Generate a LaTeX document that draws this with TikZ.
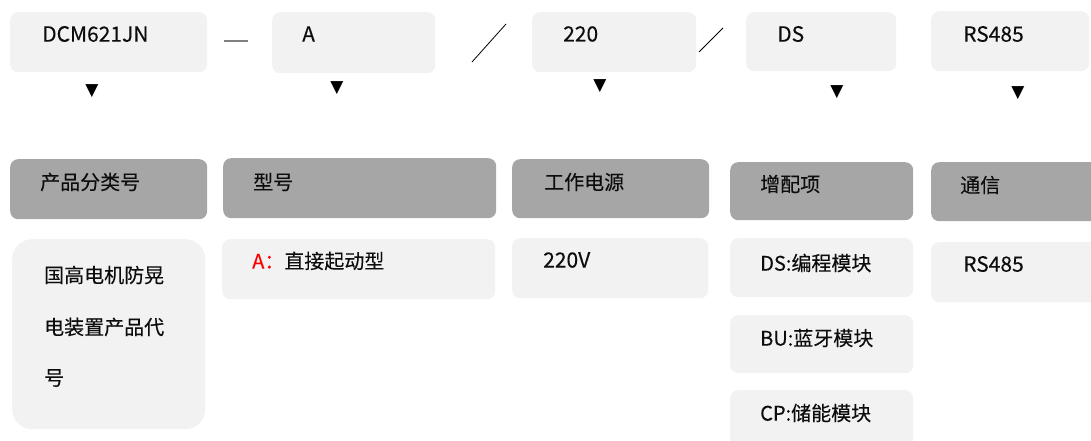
\documentclass[tikz,border=0pt]{standalone}
\usepackage{fontspec}
\setmainfont{Noto Sans CJK SC}[FakeBold=0.15]
\newfontfamily\symfont{DejaVu Sans}
\definecolor{lightbg}{HTML}{F2F2F2}
\definecolor{headbg}{HTML}{A6A6A6}
\definecolor{txt}{HTML}{0D0D0D}
\definecolor{sepgray}{HTML}{808080}
\begin{document}
\begin{tikzpicture}[x=1pt,y=-1pt,
  lbox/.style={fill=lightbg,draw=none,rounded corners=8pt,inner sep=0pt,anchor=north west},
  hbox/.style={fill=headbg,draw=none,rounded corners=8pt,inner sep=0pt,anchor=north west},
  lbl/.style={anchor=west,inner sep=0pt,text=txt,font=\fontsize{20}{24}\selectfont},
  latin/.style={lbl,font=\fontsize{21}{24}\selectfont},
  tri/.style={inner sep=0pt,text=black,font=\symfont\fontsize{17}{17}\selectfont},
  sep/.style={line width=0.8pt}]
\clip (0,0) rectangle (1091,441);
\useasboundingbox (0,0) rectangle (1091,441);
% top row
\node[lbox,minimum width=197pt,minimum height=60pt] (t1) at (10,12) {};
\node[lbox,minimum width=163pt,minimum height=61pt] (t2) at (272,12) {};
\node[lbox,minimum width=164pt,minimum height=60pt] (t3) at (532,12) {};
\node[lbox,minimum width=150pt,minimum height=59pt] (t4) at (746,12) {};
\node[lbox,minimum width=158pt,minimum height=60pt] (t5) at (931,11) {};
\node[latin] (t1l) at (42,34) {DCM621JN};
\node[latin] (t2l) at (302,34) {A};
\node[latin] (t3l) at (563,34) {220};
\node[latin] (t4l) at (777,34) {DS};
\node[latin] (t5l) at (963,34) {RS485};
% separators
\coordinate (s0a) at (224,41); \coordinate (s0b) at (248,41);
\draw[sepgray,line width=1.2pt] (s0a) -- (s0b);
\coordinate (s1a) at (472,62); \coordinate (s1b) at (506,24);
\draw[sep] (s1a) -- (s1b);
\coordinate (s2a) at (699,52); \coordinate (s2b) at (723,28);
\draw[sep] (s2a) -- (s2b);
% triangles
\node[tri] (v1) at (92,91) {▼};
\node[tri] (v2) at (337,88) {▼};
\node[tri] (v3) at (600,86) {▼};
\node[tri] (v4) at (837,92) {▼};
\node[tri] (v5) at (1018,93) {▼};
% header row
\node[hbox,minimum width=197pt,minimum height=60pt] (h1) at (10,159) {};
\node[hbox,minimum width=273pt,minimum height=60pt] (h2) at (223,158) {};
\node[hbox,minimum width=197pt,minimum height=59pt] (h3) at (512,159) {};
\node[hbox,minimum width=183pt,minimum height=58pt] (h4) at (730,162) {};
\node[hbox,minimum width=175pt,minimum height=59pt] (h5) at (931,162) {};
\node[lbl] (h1l) at (40,182) {产品分类号};
\node[lbl] (h2l) at (253,182) {型号};
\node[lbl] (h3l) at (544,182) {工作电源};
\node[lbl] (h4l) at (760,184) {增配项};
\node[lbl] (h5l) at (960,185) {通信};
% detail row
\node[lbox,rounded corners=20pt,minimum width=193pt,minimum height=190pt] (d1) at (12,239) {};
\node[lbox,minimum width=273pt,minimum height=60pt] (d2) at (222,239) {};
\node[lbox,minimum width=196pt,minimum height=60pt] (d3) at (512,238) {};
\node[lbox,minimum width=183pt,minimum height=59pt] (d4a) at (730,238) {};
\node[lbox,minimum width=183pt,minimum height=58pt] (d4b) at (730,315) {};
\node[lbox,minimum width=183pt,minimum height=70pt] (d4c) at (730,390) {};
\node[lbox,minimum width=175pt,minimum height=60pt] (d5) at (931,242) {};
\node[lbl] (d1a) at (44,275) {国高电机防晃};
\node[lbl] (d1b) at (44,327) {电装置产品代};
\node[lbl] (d1c) at (44,378) {号};
\node[lbl] (d2l) at (252,261) {\textcolor{red}{A：}直接起动型};
\node[latin] (d3l) at (543,260) {220V};
\node[lbl] (d4al) at (760,263) {DS:编程模块};
\node[lbl] (d4bl) at (760,338) {BU:蓝牙模块};
\node[lbl] (d4cl) at (760,413) {CP:储能模块};
\node[latin] (d5l) at (963,264) {RS485};
\end{tikzpicture}
\end{document}
